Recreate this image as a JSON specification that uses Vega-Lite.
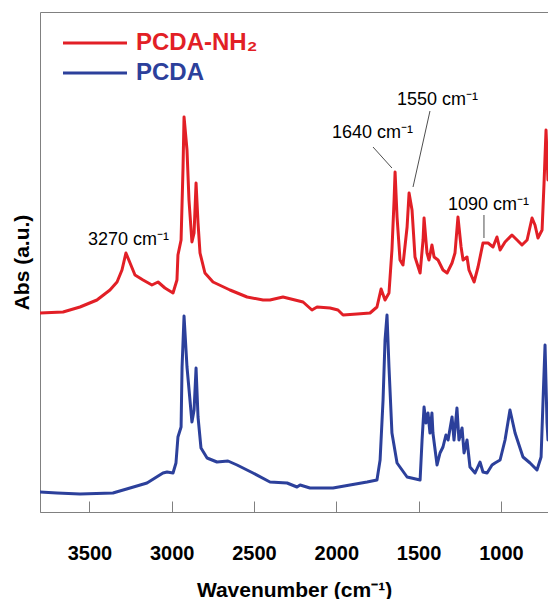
{
  "$schema": "https://vega.github.io/schema/vega-lite/v6.json",
  "width": 508,
  "height": 500,
  "autosize": {"type": "none"},
  "padding": {"left": 40, "top": 12, "right": 0, "bottom": 87},
  "background": "white",
  "config": {
    "view": {"stroke": "#808080", "strokeWidth": 1},
    "font": "Liberation Sans"
  },
  "layer": [
    {
      "data": {
        "values": [
          {"series": "PCDA-NH₂", "wn": 3800, "ab": 39.8}, {"series": "PCDA-NH₂", "wn": 3660, "ab": 40}, {"series": "PCDA-NH₂", "wn": 3557, "ab": 41}, {"series": "PCDA-NH₂", "wn": 3454, "ab": 42.4}, {"series": "PCDA-NH₂", "wn": 3375, "ab": 44.4}, {"series": "PCDA-NH₂", "wn": 3332, "ab": 46}, {"series": "PCDA-NH₂", "wn": 3302, "ab": 48.4}, {"series": "PCDA-NH₂", "wn": 3278, "ab": 51.8}, {"series": "PCDA-NH₂", "wn": 3253, "ab": 49.8}, {"series": "PCDA-NH₂", "wn": 3223, "ab": 47.4}, {"series": "PCDA-NH₂", "wn": 3174, "ab": 46.4}, {"series": "PCDA-NH₂", "wn": 3120, "ab": 45.4}, {"series": "PCDA-NH₂", "wn": 3083, "ab": 46}, {"series": "PCDA-NH₂", "wn": 3041, "ab": 44.8}, {"series": "PCDA-NH₂", "wn": 2992, "ab": 43.8}, {"series": "PCDA-NH₂", "wn": 2968, "ab": 46.4}, {"series": "PCDA-NH₂", "wn": 2962, "ab": 51.4}, {"series": "PCDA-NH₂", "wn": 2943, "ab": 54.4}, {"series": "PCDA-NH₂", "wn": 2931, "ab": 69}, {"series": "PCDA-NH₂", "wn": 2925, "ab": 79}, {"series": "PCDA-NH₂", "wn": 2907, "ab": 72.4}, {"series": "PCDA-NH₂", "wn": 2895, "ab": 62.4}, {"series": "PCDA-NH₂", "wn": 2877, "ab": 54}, {"series": "PCDA-NH₂", "wn": 2864, "ab": 55.8}, {"series": "PCDA-NH₂", "wn": 2852, "ab": 65.8}, {"series": "PCDA-NH₂", "wn": 2840, "ab": 57.8}, {"series": "PCDA-NH₂", "wn": 2828, "ab": 51.8}, {"series": "PCDA-NH₂", "wn": 2798, "ab": 47.8}, {"series": "PCDA-NH₂", "wn": 2749, "ab": 46}, {"series": "PCDA-NH₂", "wn": 2646, "ab": 44.4}, {"series": "PCDA-NH₂", "wn": 2542, "ab": 43}, {"series": "PCDA-NH₂", "wn": 2445, "ab": 42.4}, {"series": "PCDA-NH₂", "wn": 2403, "ab": 42.4}, {"series": "PCDA-NH₂", "wn": 2324, "ab": 43}, {"series": "PCDA-NH₂", "wn": 2202, "ab": 42}, {"series": "PCDA-NH₂", "wn": 2148, "ab": 40.4}, {"series": "PCDA-NH₂", "wn": 2117, "ab": 41}, {"series": "PCDA-NH₂", "wn": 2038, "ab": 40.8}, {"series": "PCDA-NH₂", "wn": 1990, "ab": 40.4}, {"series": "PCDA-NH₂", "wn": 1959, "ab": 39.4}, {"series": "PCDA-NH₂", "wn": 1874, "ab": 39.6}, {"series": "PCDA-NH₂", "wn": 1795, "ab": 39.8}, {"series": "PCDA-NH₂", "wn": 1753, "ab": 41}, {"series": "PCDA-NH₂", "wn": 1728, "ab": 44.6}, {"series": "PCDA-NH₂", "wn": 1704, "ab": 42.4}, {"series": "PCDA-NH₂", "wn": 1680, "ab": 43.8}, {"series": "PCDA-NH₂", "wn": 1662, "ab": 52.4}, {"series": "PCDA-NH₂", "wn": 1649, "ab": 62.4}, {"series": "PCDA-NH₂", "wn": 1643, "ab": 68}, {"series": "PCDA-NH₂", "wn": 1631, "ab": 59}, {"series": "PCDA-NH₂", "wn": 1613, "ab": 50.4}, {"series": "PCDA-NH₂", "wn": 1595, "ab": 49.4}, {"series": "PCDA-NH₂", "wn": 1570, "ab": 57}, {"series": "PCDA-NH₂", "wn": 1558, "ab": 63.8}, {"series": "PCDA-NH₂", "wn": 1540, "ab": 60.4}, {"series": "PCDA-NH₂", "wn": 1522, "ab": 51}, {"series": "PCDA-NH₂", "wn": 1491, "ab": 47.8}, {"series": "PCDA-NH₂", "wn": 1473, "ab": 54.4}, {"series": "PCDA-NH₂", "wn": 1467, "ab": 58.8}, {"series": "PCDA-NH₂", "wn": 1449, "ab": 51.8}, {"series": "PCDA-NH₂", "wn": 1437, "ab": 50.4}, {"series": "PCDA-NH₂", "wn": 1419, "ab": 53.4}, {"series": "PCDA-NH₂", "wn": 1406, "ab": 51}, {"series": "PCDA-NH₂", "wn": 1382, "ab": 50.4}, {"series": "PCDA-NH₂", "wn": 1352, "ab": 48.4}, {"series": "PCDA-NH₂", "wn": 1327, "ab": 47.8}, {"series": "PCDA-NH₂", "wn": 1297, "ab": 49.8}, {"series": "PCDA-NH₂", "wn": 1279, "ab": 51.8}, {"series": "PCDA-NH₂", "wn": 1261, "ab": 59}, {"series": "PCDA-NH₂", "wn": 1242, "ab": 53}, {"series": "PCDA-NH₂", "wn": 1230, "ab": 50.4}, {"series": "PCDA-NH₂", "wn": 1206, "ab": 51}, {"series": "PCDA-NH₂", "wn": 1194, "ab": 48.4}, {"series": "PCDA-NH₂", "wn": 1163, "ab": 46}, {"series": "PCDA-NH₂", "wn": 1139, "ab": 49}, {"series": "PCDA-NH₂", "wn": 1109, "ab": 53.8}, {"series": "PCDA-NH₂", "wn": 1078, "ab": 53.8}, {"series": "PCDA-NH₂", "wn": 1048, "ab": 53}, {"series": "PCDA-NH₂", "wn": 1024, "ab": 55}, {"series": "PCDA-NH₂", "wn": 1005, "ab": 52.4}, {"series": "PCDA-NH₂", "wn": 975, "ab": 54}, {"series": "PCDA-NH₂", "wn": 933, "ab": 55.4}, {"series": "PCDA-NH₂", "wn": 902, "ab": 54.4}, {"series": "PCDA-NH₂", "wn": 872, "ab": 53.4}, {"series": "PCDA-NH₂", "wn": 841, "ab": 54.4}, {"series": "PCDA-NH₂", "wn": 811, "ab": 58.8}, {"series": "PCDA-NH₂", "wn": 793, "ab": 57.4}, {"series": "PCDA-NH₂", "wn": 775, "ab": 54.8}, {"series": "PCDA-NH₂", "wn": 750, "ab": 56.4}, {"series": "PCDA-NH₂", "wn": 738, "ab": 65.8}, {"series": "PCDA-NH₂", "wn": 726, "ab": 76.4}, {"series": "PCDA-NH₂", "wn": 714, "ab": 66.4},
          {"series": "PCDA", "wn": 3800, "ab": 4}, {"series": "PCDA", "wn": 3697, "ab": 3.8}, {"series": "PCDA", "wn": 3557, "ab": 3.6}, {"series": "PCDA", "wn": 3357, "ab": 3.8}, {"series": "PCDA", "wn": 3253, "ab": 4.8}, {"series": "PCDA", "wn": 3150, "ab": 5.8}, {"series": "PCDA", "wn": 3053, "ab": 7.8}, {"series": "PCDA", "wn": 3028, "ab": 8}, {"series": "PCDA", "wn": 2992, "ab": 7.8}, {"series": "PCDA", "wn": 2974, "ab": 9.8}, {"series": "PCDA", "wn": 2962, "ab": 15}, {"series": "PCDA", "wn": 2943, "ab": 17}, {"series": "PCDA", "wn": 2937, "ab": 29}, {"series": "PCDA", "wn": 2925, "ab": 39.2}, {"series": "PCDA", "wn": 2907, "ab": 29}, {"series": "PCDA", "wn": 2877, "ab": 18}, {"series": "PCDA", "wn": 2864, "ab": 20.4}, {"series": "PCDA", "wn": 2852, "ab": 28.8}, {"series": "PCDA", "wn": 2840, "ab": 19}, {"series": "PCDA", "wn": 2822, "ab": 12.8}, {"series": "PCDA", "wn": 2785, "ab": 10.8}, {"series": "PCDA", "wn": 2725, "ab": 10}, {"series": "PCDA", "wn": 2658, "ab": 10.2}, {"series": "PCDA", "wn": 2603, "ab": 9.4}, {"series": "PCDA", "wn": 2506, "ab": 7.8}, {"series": "PCDA", "wn": 2403, "ab": 6}, {"series": "PCDA", "wn": 2299, "ab": 5.8}, {"series": "PCDA", "wn": 2239, "ab": 5}, {"series": "PCDA", "wn": 2220, "ab": 5.4}, {"series": "PCDA", "wn": 2160, "ab": 4.8}, {"series": "PCDA", "wn": 2020, "ab": 4.8}, {"series": "PCDA", "wn": 1917, "ab": 5.4}, {"series": "PCDA", "wn": 1813, "ab": 6}, {"series": "PCDA", "wn": 1753, "ab": 6.4}, {"series": "PCDA", "wn": 1734, "ab": 10.4}, {"series": "PCDA", "wn": 1716, "ab": 22.4}, {"series": "PCDA", "wn": 1704, "ab": 34.4}, {"series": "PCDA", "wn": 1692, "ab": 39.4}, {"series": "PCDA", "wn": 1680, "ab": 29}, {"series": "PCDA", "wn": 1662, "ab": 15.8}, {"series": "PCDA", "wn": 1631, "ab": 9.8}, {"series": "PCDA", "wn": 1570, "ab": 7}, {"series": "PCDA", "wn": 1491, "ab": 6.4}, {"series": "PCDA", "wn": 1479, "ab": 14.4}, {"series": "PCDA", "wn": 1467, "ab": 21}, {"series": "PCDA", "wn": 1455, "ab": 17.8}, {"series": "PCDA", "wn": 1443, "ab": 19.8}, {"series": "PCDA", "wn": 1431, "ab": 15.8}, {"series": "PCDA", "wn": 1419, "ab": 19.8}, {"series": "PCDA", "wn": 1413, "ab": 15.8}, {"series": "PCDA", "wn": 1388, "ab": 9.4}, {"series": "PCDA", "wn": 1370, "ab": 11.8}, {"series": "PCDA", "wn": 1352, "ab": 13}, {"series": "PCDA", "wn": 1334, "ab": 15.4}, {"series": "PCDA", "wn": 1321, "ab": 14.4}, {"series": "PCDA", "wn": 1297, "ab": 19}, {"series": "PCDA", "wn": 1285, "ab": 14.4}, {"series": "PCDA", "wn": 1267, "ab": 20.8}, {"series": "PCDA", "wn": 1255, "ab": 14.4}, {"series": "PCDA", "wn": 1236, "ab": 16.8}, {"series": "PCDA", "wn": 1224, "ab": 11.8}, {"series": "PCDA", "wn": 1206, "ab": 14.4}, {"series": "PCDA", "wn": 1188, "ab": 9}, {"series": "PCDA", "wn": 1157, "ab": 7.8}, {"series": "PCDA", "wn": 1127, "ab": 10}, {"series": "PCDA", "wn": 1109, "ab": 8}, {"series": "PCDA", "wn": 1084, "ab": 7.8}, {"series": "PCDA", "wn": 1054, "ab": 9.4}, {"series": "PCDA", "wn": 1036, "ab": 9.8}, {"series": "PCDA", "wn": 1005, "ab": 10.4}, {"series": "PCDA", "wn": 975, "ab": 14.4}, {"series": "PCDA", "wn": 945, "ab": 20.4}, {"series": "PCDA", "wn": 914, "ab": 15.8}, {"series": "PCDA", "wn": 866, "ab": 11}, {"series": "PCDA", "wn": 823, "ab": 9.8}, {"series": "PCDA", "wn": 781, "ab": 8.4}, {"series": "PCDA", "wn": 756, "ab": 11}, {"series": "PCDA", "wn": 744, "ab": 22.4}, {"series": "PCDA", "wn": 732, "ab": 33.4}, {"series": "PCDA", "wn": 720, "ab": 17.8}, {"series": "PCDA", "wn": 714, "ab": 14.4}
        ]
      },
      "mark": {"type": "line", "strokeWidth": 3, "strokeJoin": "round", "strokeCap": "round", "clip": true},
      "encoding": {
        "x": {
          "field": "wn", "type": "quantitative", "title": "Wavenumber (cm⁻¹)",
          "scale": {"domain": [714, 3800], "reverse": true, "nice": false, "zero": false},
          "axis": {
            "values": [3500, 3000, 2500, 2000, 1500, 1000], "format": "d",
            "grid": false, "domainColor": "#808080", "tickColor": "#808080", "tickSize": -11,
            "labelFont": "Liberation Sans", "labelFontSize": 20, "labelFontWeight": "bold", "labelColor": "black", "labelPadding": 42,
            "titleFont": "Liberation Sans", "titleFontSize": 21, "titleFontWeight": "bold", "titleColor": "black", "titlePadding": 16
          }
        },
        "y": {
          "field": "ab", "type": "quantitative", "title": "Abs (a.u.)",
          "scale": {"domain": [0, 100], "nice": false, "zero": false},
          "axis": {
            "grid": false, "domain": false, "ticks": false, "labels": false,
            "titleFont": "Liberation Sans", "titleFontSize": 21, "titleFontWeight": "bold", "titleColor": "black", "titlePadding": 8
          }
        },
        "color": {
          "field": "series", "type": "nominal",
          "scale": {"domain": ["PCDA-NH₂", "PCDA"], "range": ["#e21f26", "#2c409b"]},
          "legend": {
            "orient": "none", "legendX": 43, "legendY": 19, "title": null,
            "symbolType": "M-4,0L4,0", "symbolSize": 256, "symbolStrokeWidth": 3,
            "labelFont": "Liberation Sans", "labelFontSize": 24, "labelFontWeight": "bold", "labelOffset": 29, "labelLimit": 0,
            "labelColor": {"expr": "datum.value == 'PCDA' ? '#2c409b' : '#e21f26'"},
            "rowPadding": 6, "padding": 0
          }
        }
      }
    },
    {
      "data": {
        "values": [
          {"x1": 1777, "y1": 73, "x2": 1662, "y2": 68.8},
          {"x1": 1431, "y1": 80.2, "x2": 1534, "y2": 65},
          {"x1": 1103, "y1": 59.4, "x2": 1103, "y2": 54.8}
        ]
      },
      "mark": {"type": "rule", "color": "#3a3a3a", "strokeWidth": 0.9},
      "encoding": {
        "x": {"field": "x1", "type": "quantitative", "title": "Wavenumber (cm⁻¹)"},
        "x2": {"field": "x2"},
        "y": {"field": "y1", "type": "quantitative", "title": "Abs (a.u.)"},
        "y2": {"field": "y2"}
      }
    },
    {
      "data": {
        "values": [
          {"wn": 3508, "ab": 54.4, "label": "3270 cm⁻¹"},
          {"wn": 2026, "ab": 75.8, "label": "1640 cm⁻¹"},
          {"wn": 1631, "ab": 82.4, "label": "1550 cm⁻¹"},
          {"wn": 1321, "ab": 61.4, "label": "1090 cm⁻¹"}
        ]
      },
      "mark": {"type": "text", "align": "left", "baseline": "middle", "font": "Liberation Sans", "fontSize": 18, "color": "black"},
      "encoding": {
        "x": {"field": "wn", "type": "quantitative", "title": "Wavenumber (cm⁻¹)"},
        "y": {"field": "ab", "type": "quantitative", "title": "Abs (a.u.)"},
        "text": {"field": "label"}
      }
    }
  ]
}
